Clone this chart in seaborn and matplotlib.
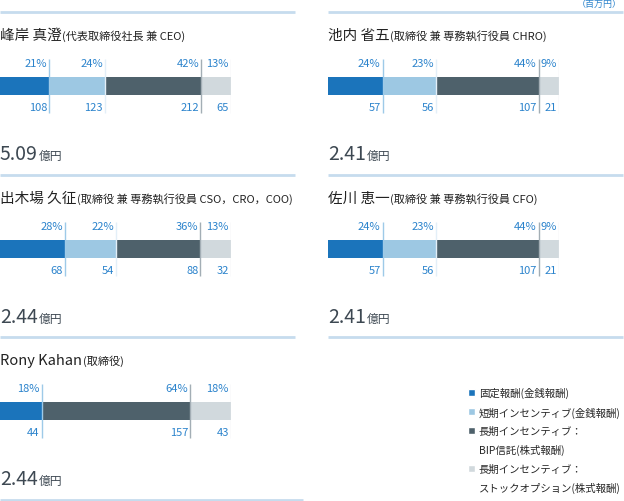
import pandas as pd
import seaborn as sns
import matplotlib.pyplot as plt
from matplotlib.patches import Patch

# --- data (百万円) ---
names = ["峰岸 真澄", "池内 省五", "出木場 久征", "佐川 恵一", "Rony Kahan"]
roles = ["(代表取締役社長 兼 CEO)", "(取締役 兼 専務執行役員 CHRO)",
         "(取締役 兼 専務執行役員 CSO，CRO，COO)", "(取締役 兼 専務執行役員 CFO)",
         "(取締役)"]
fixed = [108, 57, 68, 57, 44]
short_term = [123, 56, 54, 56, 0]
bip = [212, 107, 88, 107, 157]
stock = [65, 21, 32, 21, 43]
pct_fixed = [21, 24, 28, 24, 18]
pct_short = [24, 23, 22, 23, 0]
pct_bip = [42, 44, 36, 44, 64]
pct_stock = [13, 9, 13, 9, 18]
totals = ["5.09", "2.41", "2.44", "2.41", "2.44"]

segments = ["固定報酬(金銭報酬)", "短期インセンティブ(金銭報酬)",
            "長期インセンティブ：BIP信託(株式報酬)", "長期インセンティブ：ストックオプション(株式報酬)"]
colors = ["#1b74bb", "#9dc8e3", "#4e616b", "#d1d9dd"]
div_colors = ["#9ecae8", "#e3eff8", "#a3aeb5", "#e6eaed"]
label_blue = "#2b83cc"
line_blue = "#c6dcee"

sns.set_theme(style="white")
plt.rcParams["font.family"] = ["Noto Sans CJK JP", "DejaVu Sans"]

W, H = 624, 502
fig = plt.figure(figsize=(W / 100, H / 100), dpi=100)

# overlay axes in pixel units for frame lines and headings
ax0 = fig.add_axes([0, 0, 1, 1])
ax0.set_xlim(0, W)
ax0.set_ylim(H, 0)
ax0.axis("off")

cols_x = [0, 328]
rows_y = [13, 176, 338]
slots = [(0, 0), (1, 0), (0, 1), (1, 1), (0, 2)]

for x0 in cols_x:
    for y0 in rows_y:
        ax0.hlines(y0, x0, x0 + 295, color=line_blue, lw=2)
ax0.hlines(501, 0, 303, color=line_blue, lw=2)
ax0.text(622, 4, "（百万円）", fontsize=6.5, color=label_blue, ha="right", va="center")

bar_w = 231
for i, (c, r) in enumerate(slots):
    x0, y0 = cols_x[c], rows_y[r]

    t = ax0.text(x0 + 0, y0 + 23, names[i], fontsize=10.5, color="#222222", va="center")
    ax0.annotate(roles[i], xy=(1, 0), xycoords=t, fontsize=8, color="#222222",
                 va="bottom", ha="left", xytext=(0.5, 1), textcoords="offset points")
    tt = ax0.text(x0 + 0, y0 + 142, totals[i], fontsize=14, color="#3d4852", va="center")
    ax0.annotate("億円", xy=(1, 0), xycoords=tt, fontsize=8.5, color="#3d4852",
                 va="bottom", ha="left", xytext=(1, 2), textcoords="offset points")

    vals = [fixed[i], short_term[i], bip[i], stock[i]]
    pcts = [pct_fixed[i], pct_short[i], pct_bip[i], pct_stock[i]]
    cum = pd.Series(vals).cumsum().tolist()
    df = pd.DataFrame({"person": names[i], "segment": segments, "value": vals, "cum": cum})

    cy = y0 + 74
    ax = fig.add_axes([x0 / W, 1 - (cy + 30) / H, bar_w / W, 60 / H])
    # stacked look: draw cumulative bars from longest to shortest
    for s in range(3, -1, -1):
        sns.barplot(data=df.iloc[[s]], x="cum", y="person", color=colors[s], orient="h",
                    width=1, saturation=1, linewidth=0, ax=ax)
    ax.set_xlim(0, cum[-1])
    ax.set_ylim(60 / 36, -60 / 36)
    ax.axis("off")

    for s in range(4):
        if vals[s] == 0:
            continue
        ax.vlines(cum[s], -1.5, 1.5, color=div_colors[s], lw=1)
        ax.annotate(f"{pcts[s]}%", xy=(cum[s], -1.28), xytext=(-1.5, 0), textcoords="offset points",
                    ha="right", va="center", fontsize=8, color=label_blue)
        ax.annotate(f"{vals[s]}", xy=(cum[s], 1.17), xytext=(-1.5, 0), textcoords="offset points",
                    ha="right", va="center", fontsize=8, color=label_blue)

# legend
leg_labels = ["固定報酬(金銭報酬)", "短期インセンティブ(金銭報酬)", "長期インセンティブ：",
              "BIP信託(株式報酬)", "長期インセンティブ：", "ストックオプション(株式報酬)"]
blank = Patch(facecolor="none", edgecolor="none")
handles = [Patch(facecolor=colors[0]), Patch(facecolor=colors[1]), Patch(facecolor=colors[2]),
           blank, Patch(facecolor=colors[3]), blank]
fig.legend(handles, leg_labels, loc="upper left", bbox_to_anchor=(468 / W, 1 - 388 / H),
           frameon=False, fontsize=7.5, handlelength=0.7, handleheight=0.7,
           handletextpad=0.35, labelspacing=0.8, borderpad=0, borderaxespad=0)

fig.savefig("out.png", dpi=100)
